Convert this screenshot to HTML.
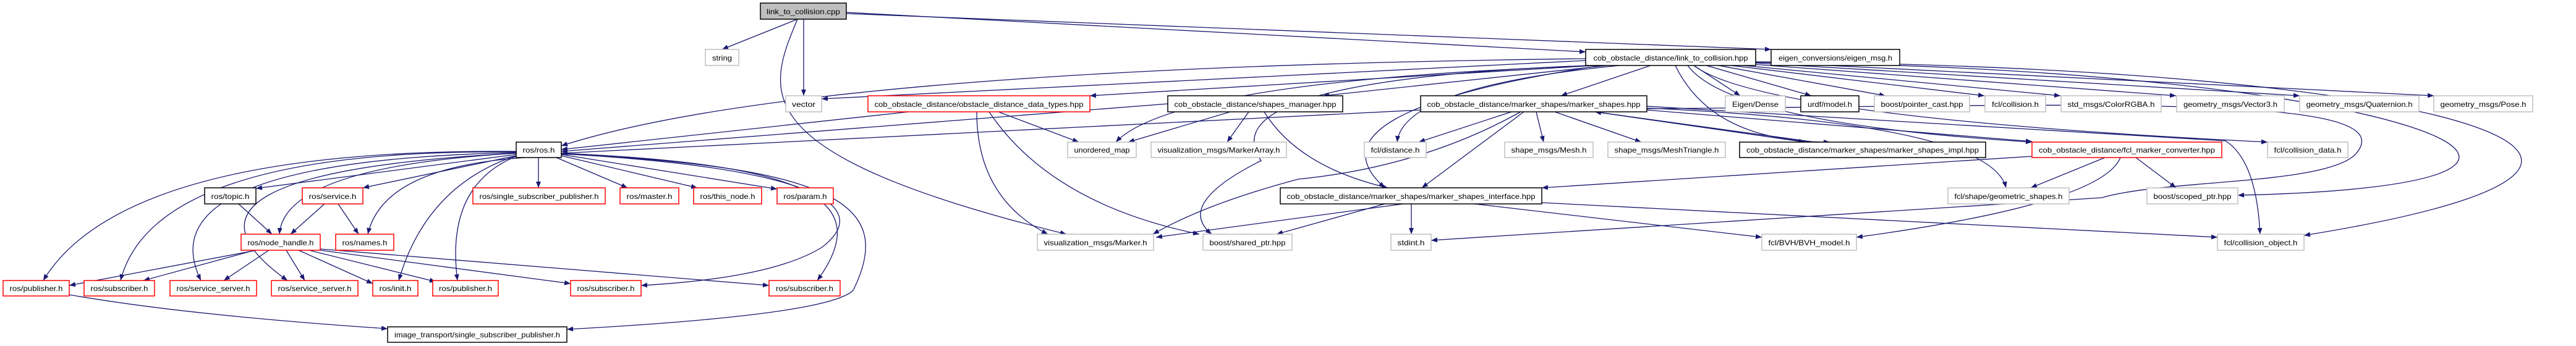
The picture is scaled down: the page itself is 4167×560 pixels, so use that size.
<!DOCTYPE html>
<html><head><meta charset="utf-8"><style>
html,body{margin:0;padding:0;background:#fff;}
svg{display:block;}
text{font-family:"Liberation Sans",sans-serif;font-size:12px;fill:#000;}
.e{fill:none;stroke:#191970;stroke-width:1.3;marker-end:url(#a);}
.k{fill:#fff;stroke:#000;stroke-width:1.5;}
.r{fill:#fff;stroke:#ff0000;stroke-width:1.5;}
.g{fill:#fff;stroke:#bfbfbf;stroke-width:1.5;}
.s{fill:#bfbfbf;stroke:#000;stroke-width:1.5;}
</style></head><body>
<svg width="4167" height="560" viewBox="0 0 4167 560" xmlns="http://www.w3.org/2000/svg">
<defs><marker id="a" markerUnits="userSpaceOnUse" markerWidth="11" markerHeight="8" refX="10" refY="4" orient="auto"><path d="M0,0 L10,4 L0,8 z" fill="#191970"/></marker></defs>
<g>
<path class="e" d="M1290,31 L1168,80"/>
<path class="e" d="M1300,31 L1300,155"/>
<path class="e" d="M1290,31 C1240,150 1200,250 1725,379"/>
<path class="e" d="M1369,20 L2565,84"/>
<path class="e" d="M1369,22 L2865,80"/>
<path class="e" d="M2565,95 Q1300,110 908,236"/>
<path class="e" d="M2565,98 L1329,160"/>
<path class="e" d="M2580,106 L1763,155"/>
<path class="e" d="M2600,106 L2140,155"/>
<path class="e" d="M2670,106 L2525,155"/>
<path class="e" d="M2585,106 Q1900,130 1805,230"/>
<path class="e" d="M2620,106 Q2270,140 2260,230"/>
<path class="e" d="M2590,106 Q2100,180 2240,304"/>
<path class="e" d="M2740,106 L2815,155"/>
<path class="e" d="M2760,106 L2930,155"/>
<path class="e" d="M2780,106 L3050,155"/>
<path class="e" d="M2800,106 L3210,155"/>
<path class="e" d="M2820,106 L3333,155"/>
<path class="e" d="M2835,104 L3520,155"/>
<path class="e" d="M2840,102 L3720,155"/>
<path class="e" d="M2840,100 L3937,155"/>
<path class="e" d="M2710,106 Q2770,230 2960,230"/>
<path class="e" d="M2730,106 Q2800,200 3287,230"/>
<path class="e" d="M2740,106 Q2850,190 3668,230"/>
<path class="e" d="M2840,101 C3900,110 4350,300 3620,316"/>
<path class="e" d="M2840,100 C3950,108 4480,260 3727,381"/>
<path class="e" d="M2570,106 Q1950,130 2040,260 Q1900,330 1960,379"/>
<path class="e" d="M1470,181 L908,242"/>
<path class="e" d="M1615,181 L1745,230"/>
<path class="e" d="M1580,181 Q1580,320 1695,379"/>
<path class="e" d="M1600,181 Q1700,330 1940,379"/>
<path class="e" d="M1889,168 L908,245"/>
<path class="e" d="M1990,181 L1825,230"/>
<path class="e" d="M2020,181 L1985,230"/>
<path class="e" d="M2045,181 Q2100,270 2245,304"/>
<path class="e" d="M2298,178 L908,248"/>
<path class="e" d="M2445,181 L2295,230"/>
<path class="e" d="M2485,181 L2497,230"/>
<path class="e" d="M2515,181 L2655,230"/>
<path class="e" d="M2580,181 L2920,230"/>
<path class="e" d="M2935,230 L2580,181"/>
<path class="e" d="M2465,181 L2300,304"/>
<path class="e" d="M2460,181 Q2300,270 2100,290 Q1950,330 1865,379"/>
<path class="e" d="M2664,178 L3287,229"/>
<path class="e" d="M2664,175 Q3220,200 3245,304"/>
<path class="e" d="M2664,172 L3600,228 Q3650,260 3656,379"/>
<path class="e" d="M2664,176 C3400,170 3900,150 3810,250 C3760,300 3500,290 3400,320 L2315,389"/>
<path class="e" d="M3287,253 L2494,304"/>
<path class="e" d="M3405,255 L3285,304"/>
<path class="e" d="M3455,255 L3520,304"/>
<path class="e" d="M3430,255 Q3400,330 3003,384"/>
<path class="e" d="M2270,330 L1870,384"/>
<path class="e" d="M2240,330 L2065,379"/>
<path class="e" d="M2283,330 L2283,379"/>
<path class="e" d="M2385,330 L2850,384"/>
<path class="e" d="M2494,328 L3587,384"/>
<path class="e" d="M835,250 L414,305"/>
<path class="e" d="M835,252 L587,304"/>
<path class="e" d="M850,255 Q620,270 595,379"/>
<path class="e" d="M835,248 Q460,270 452,379"/>
<path class="e" d="M871,255 L871,304"/>
<path class="e" d="M900,255 L1015,304"/>
<path class="e" d="M908,252 L1128,304"/>
<path class="e" d="M908,250 L1257,306"/>
<path class="e" d="M835,245 Q200,240 70,454"/>
<path class="e" d="M835,246 Q250,240 195,454"/>
<path class="e" d="M835,247 Q230,260 325,454"/>
<path class="e" d="M835,248 Q220,280 465,454"/>
<path class="e" d="M835,252 Q690,300 645,454"/>
<path class="e" d="M835,253 Q720,300 740,454"/>
<path class="e" d="M908,248 C1300,265 1420,320 1322,454"/>
<path class="e" d="M908,249 C1300,270 1420,330 1330,400 Q1250,450 1037,462"/>
<path class="e" d="M908,249 C1350,270 1450,330 1380,470 Q1340,510 917,533"/>
<path class="e" d="M386,330 L440,379"/>
<path class="e" d="M525,330 L470,379"/>
<path class="e" d="M547,330 L580,379"/>
<path class="e" d="M415,405 L112,462"/>
<path class="e" d="M412,405 L232,454"/>
<path class="e" d="M435,405 L362,454"/>
<path class="e" d="M463,405 L493,454"/>
<path class="e" d="M483,405 L603,459"/>
<path class="e" d="M500,405 L705,456"/>
<path class="e" d="M518,405 L923,459"/>
<path class="e" d="M518,403 L1244,462"/>
<path class="e" d="M112,477 Q300,510 627,532"/>
</g>
<g>
<rect class="s" x="1230" y="5" width="139" height="26"/><text x="1299.5" y="23" text-anchor="middle" textLength="119" lengthAdjust="spacingAndGlyphs">link_to_collision.cpp</text>
<rect class="g" x="1141" y="80" width="54" height="26"/><text x="1168" y="98" text-anchor="middle" textLength="32" lengthAdjust="spacingAndGlyphs">string</text>
<rect class="k" x="2565" y="80" width="275" height="26"/><text x="2702.5" y="98" text-anchor="middle" textLength="250" lengthAdjust="spacingAndGlyphs">cob_obstacle_distance/link_to_collision.hpp</text>
<rect class="k" x="2865" y="80" width="208" height="26"/><text x="2969" y="98" text-anchor="middle" textLength="184" lengthAdjust="spacingAndGlyphs">eigen_conversions/eigen_msg.h</text>

<rect class="g" x="1271" y="155" width="58" height="26"/><text x="1300" y="173" text-anchor="middle" textLength="38" lengthAdjust="spacingAndGlyphs">vector</text>
<rect class="r" x="1404" y="155" width="359" height="26"/><text x="1583.5" y="173" text-anchor="middle" textLength="338" lengthAdjust="spacingAndGlyphs">cob_obstacle_distance/obstacle_distance_data_types.hpp</text>
<rect class="k" x="1889" y="155" width="283" height="26"/><text x="2030.5" y="173" text-anchor="middle" textLength="262" lengthAdjust="spacingAndGlyphs">cob_obstacle_distance/shapes_manager.hpp</text>
<rect class="k" x="2298" y="155" width="366" height="26"/><text x="2481" y="173" text-anchor="middle" textLength="345" lengthAdjust="spacingAndGlyphs">cob_obstacle_distance/marker_shapes/marker_shapes.hpp</text>
<rect class="g" x="2791" y="155" width="97" height="26"/><text x="2839.5" y="173" text-anchor="middle" textLength="75" lengthAdjust="spacingAndGlyphs">Eigen/Dense</text>
<rect class="k" x="2913" y="155" width="94" height="26"/><text x="2960" y="173" text-anchor="middle" textLength="72" lengthAdjust="spacingAndGlyphs">urdf/model.h</text>
<rect class="g" x="3032" y="155" width="154" height="26"/><text x="3109" y="173" text-anchor="middle" textLength="133" lengthAdjust="spacingAndGlyphs">boost/pointer_cast.hpp</text>
<rect class="g" x="3211" y="155" width="98" height="26"/><text x="3260" y="173" text-anchor="middle" textLength="76" lengthAdjust="spacingAndGlyphs">fcl/collision.h</text>
<rect class="g" x="3334" y="155" width="162" height="26"/><text x="3415" y="173" text-anchor="middle" textLength="141" lengthAdjust="spacingAndGlyphs">std_msgs/ColorRGBA.h</text>
<rect class="g" x="3521" y="155" width="174" height="26"/><text x="3608" y="173" text-anchor="middle" textLength="152" lengthAdjust="spacingAndGlyphs">geometry_msgs/Vector3.h</text>
<rect class="g" x="3720" y="155" width="193" height="26"/><text x="3816.5" y="173" text-anchor="middle" textLength="172" lengthAdjust="spacingAndGlyphs">geometry_msgs/Quaternion.h</text>
<rect class="g" x="3937" y="155" width="160" height="26"/><text x="4017" y="173" text-anchor="middle" textLength="139" lengthAdjust="spacingAndGlyphs">geometry_msgs/Pose.h</text>

<rect class="k" x="835" y="230" width="73" height="25"/><text x="871.5" y="247" text-anchor="middle" textLength="52" lengthAdjust="spacingAndGlyphs">ros/ros.h</text>
<rect class="g" x="1727" y="230" width="111" height="25"/><text x="1782.5" y="247" text-anchor="middle" textLength="90" lengthAdjust="spacingAndGlyphs">unordered_map</text>
<rect class="g" x="1862" y="230" width="219" height="25"/><text x="1971.5" y="247" text-anchor="middle" textLength="198" lengthAdjust="spacingAndGlyphs">visualization_msgs/MarkerArray.h</text>
<rect class="g" x="2207" y="230" width="100" height="25"/><text x="2257" y="247" text-anchor="middle" textLength="79" lengthAdjust="spacingAndGlyphs">fcl/distance.h</text>
<rect class="g" x="2434" y="230" width="143" height="25"/><text x="2505.5" y="247" text-anchor="middle" textLength="122" lengthAdjust="spacingAndGlyphs">shape_msgs/Mesh.h</text>
<rect class="g" x="2601" y="230" width="190" height="25"/><text x="2696" y="247" text-anchor="middle" textLength="169" lengthAdjust="spacingAndGlyphs">shape_msgs/MeshTriangle.h</text>
<rect class="k" x="2814" y="230" width="398" height="25"/><text x="3013" y="247" text-anchor="middle" textLength="376" lengthAdjust="spacingAndGlyphs">cob_obstacle_distance/marker_shapes/marker_shapes_impl.hpp</text>
<rect class="r" x="3287" y="230" width="307" height="25"/><text x="3440.5" y="247" text-anchor="middle" textLength="285" lengthAdjust="spacingAndGlyphs">cob_obstacle_distance/fcl_marker_converter.hpp</text>
<rect class="g" x="3668" y="230" width="130" height="25"/><text x="3733" y="247" text-anchor="middle" textLength="109" lengthAdjust="spacingAndGlyphs">fcl/collision_data.h</text>

<rect class="k" x="331" y="304" width="83" height="26"/><text x="372.5" y="322" text-anchor="middle" textLength="62" lengthAdjust="spacingAndGlyphs">ros/topic.h</text>
<rect class="r" x="489" y="304" width="98" height="26"/><text x="538" y="322" text-anchor="middle" textLength="77" lengthAdjust="spacingAndGlyphs">ros/service.h</text>
<rect class="r" x="765" y="304" width="214" height="26"/><text x="872" y="322" text-anchor="middle" textLength="193" lengthAdjust="spacingAndGlyphs">ros/single_subscriber_publisher.h</text>
<rect class="r" x="1003" y="304" width="95" height="26"/><text x="1050.5" y="322" text-anchor="middle" textLength="74" lengthAdjust="spacingAndGlyphs">ros/master.h</text>
<rect class="r" x="1122" y="304" width="110" height="26"/><text x="1177" y="322" text-anchor="middle" textLength="89" lengthAdjust="spacingAndGlyphs">ros/this_node.h</text>
<rect class="r" x="1257" y="304" width="91" height="26"/><text x="1302.5" y="322" text-anchor="middle" textLength="70" lengthAdjust="spacingAndGlyphs">ros/param.h</text>
<rect class="k" x="2071" y="304" width="423" height="26"/><text x="2282.5" y="322" text-anchor="middle" textLength="402" lengthAdjust="spacingAndGlyphs">cob_obstacle_distance/marker_shapes/marker_shapes_interface.hpp</text>
<rect class="g" x="3151" y="304" width="196" height="26"/><text x="3249" y="322" text-anchor="middle" textLength="175" lengthAdjust="spacingAndGlyphs">fcl/shape/geometric_shapes.h</text>
<rect class="g" x="3473" y="304" width="147" height="26"/><text x="3546.5" y="322" text-anchor="middle" textLength="126" lengthAdjust="spacingAndGlyphs">boost/scoped_ptr.hpp</text>

<rect class="r" x="390" y="379" width="128" height="26"/><text x="454" y="397" text-anchor="middle" textLength="107" lengthAdjust="spacingAndGlyphs">ros/node_handle.h</text>
<rect class="r" x="543" y="379" width="94" height="26"/><text x="590" y="397" text-anchor="middle" textLength="73" lengthAdjust="spacingAndGlyphs">ros/names.h</text>
<rect class="g" x="1678" y="379" width="188" height="26"/><text x="1772" y="397" text-anchor="middle" textLength="167" lengthAdjust="spacingAndGlyphs">visualization_msgs/Marker.h</text>
<rect class="g" x="1946" y="379" width="144" height="26"/><text x="2018" y="397" text-anchor="middle" textLength="123" lengthAdjust="spacingAndGlyphs">boost/shared_ptr.hpp</text>
<rect class="g" x="2250" y="379" width="65" height="26"/><text x="2282.5" y="397" text-anchor="middle" textLength="44" lengthAdjust="spacingAndGlyphs">stdint.h</text>
<rect class="g" x="2850" y="379" width="153" height="26"/><text x="2926.5" y="397" text-anchor="middle" textLength="132" lengthAdjust="spacingAndGlyphs">fcl/BVH/BVH_model.h</text>
<rect class="g" x="3587" y="379" width="140" height="26"/><text x="3657" y="397" text-anchor="middle" textLength="119" lengthAdjust="spacingAndGlyphs">fcl/collision_object.h</text>

<rect class="r" x="5" y="454" width="107" height="25"/><text x="58.5" y="471" text-anchor="middle" textLength="86" lengthAdjust="spacingAndGlyphs">ros/publisher.h</text>
<rect class="r" x="136" y="454" width="114" height="25"/><text x="193" y="471" text-anchor="middle" textLength="93" lengthAdjust="spacingAndGlyphs">ros/subscriber.h</text>
<rect class="r" x="275" y="454" width="140" height="25"/><text x="345" y="471" text-anchor="middle" textLength="119" lengthAdjust="spacingAndGlyphs">ros/service_server.h</text>
<rect class="r" x="439" y="454" width="140" height="25"/><text x="509" y="471" text-anchor="middle" textLength="119" lengthAdjust="spacingAndGlyphs">ros/service_server.h</text>
<rect class="r" x="603" y="454" width="73" height="25"/><text x="639.5" y="471" text-anchor="middle" textLength="52" lengthAdjust="spacingAndGlyphs">ros/init.h</text>
<rect class="r" x="700" y="454" width="106" height="25"/><text x="753" y="471" text-anchor="middle" textLength="86" lengthAdjust="spacingAndGlyphs">ros/publisher.h</text>
<rect class="r" x="923" y="454" width="114" height="25"/><text x="980" y="471" text-anchor="middle" textLength="93" lengthAdjust="spacingAndGlyphs">ros/subscriber.h</text>
<rect class="r" x="1244" y="454" width="115" height="25"/><text x="1301.5" y="471" text-anchor="middle" textLength="93" lengthAdjust="spacingAndGlyphs">ros/subscriber.h</text>

<rect class="k" x="627" y="529" width="290" height="25"/><text x="772" y="546" text-anchor="middle" textLength="268" lengthAdjust="spacingAndGlyphs">image_transport/single_subscriber_publisher.h</text>
</g>
</svg>
</body></html>
